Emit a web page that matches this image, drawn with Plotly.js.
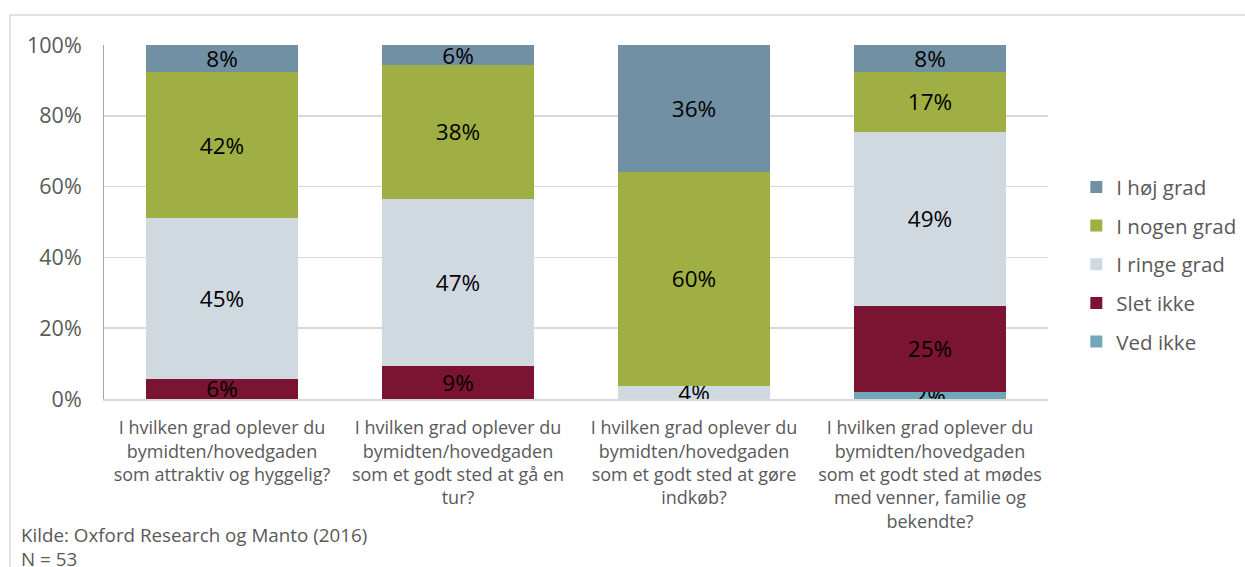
<!DOCTYPE html>
<html>
<head>
<meta charset="utf-8">
<script src="https://cdn.plot.ly/plotly-3.0.1.min.js"></script>
<style>
html,body{margin:0;padding:0;background:#fff;}
#chart{width:1245px;height:567px;}
</style>
</head>
<body>
<div id="chart"></div>
<script>
const categories = [
  "I hvilken grad oplever du<br>bymidten/hovedgaden<br>som attraktiv og hyggelig?",
  "I hvilken grad oplever du<br>bymidten/hovedgaden<br>som et godt sted at gå en<br>tur?",
  "I hvilken grad oplever du<br>bymidten/hovedgaden<br>som et godt sted at gøre<br>indkøb?",
  "I hvilken grad oplever du<br>bymidten/hovedgaden<br>som et godt sted at mødes<br>med venner, familie og<br>bekendte?"
];
const vedIkke    = [0, 0, 0, 1.9];
const sletIkke   = [5.7, 9.4, 0, 24.5];
const iRingeGrad = [45.3, 47.2, 3.8, 49.1];
const iNogenGrad = [41.5, 37.7, 60.4, 17.0];
const iHojGrad   = [7.5, 5.7, 35.8, 7.5];

const seriesNames  = ["Ved ikke", "Slet ikke", "I ringe grad", "I nogen grad", "I høj grad"];
const seriesValues = [vedIkke, sletIkke, iRingeGrad, iNogenGrad, iHojGrad];
const seriesColors = ["#70A7BB", "#7B1432", "#D0D8E0", "#9FAF44", "#7290A4"];

const FONT = "'Open Sans', 'Noto Sans', sans-serif";

const traces = seriesNames.map((name, i) => ({
  type: "bar",
  name: name,
  x: categories,
  y: seriesValues[i],
  marker: {color: seriesColors[i], line: {width: 0}},
  text: seriesValues[i].map(v => v > 0 ? Math.round(v) + "%" : ""),
  textposition: "inside",
  insidetextanchor: "middle",
  constraintext: "none",
  textfont: {family: FONT, size: 22.5, color: "#000"},
  hoverinfo: "skip",
  legendgroup: "g" + i,
  legendrank: 100 - i
}));

const layout = {
  width: 1245, height: 567,
  margin: {l: 104, r: 197, t: 45, b: 168, autoexpand: false},
  barmode: "stack",
  bargap: 0.356,
  paper_bgcolor: "#fff",
  plot_bgcolor: "#fff",
  font: {family: FONT, color: "#595959"},
  showlegend: true,
  legend: {
    x: 1.03, xanchor: "left", y: 0.655, yanchor: "top",
    traceorder: "grouped",
    tracegroupgap: 9,
    font: {family: FONT, size: 20.5, color: "#595959"},
    itemwidth: 30
  },
  xaxis: {
    tickfont: {family: FONT, size: 18, color: "#595959"},
    showline: true, linecolor: "#d9d9d9", linewidth: 1.5,
    ticks: "", showgrid: false, ticklabelstandoff: 12
  },
  yaxis: {
    range: [0, 100], dtick: 20, ticksuffix: "%",
    tickfont: {family: FONT, size: 21.5, color: "#595959"},
    showgrid: true, gridcolor: "#d9d9d9", gridwidth: 1.5,
    showline: true, linecolor: "#a6a6a6", linewidth: 1,
    zeroline: false, ticks: "", ticklabelstandoff: 17
  },
  shapes: [{
    type: "rect", xref: "paper", yref: "paper",
    x0: -0.0996, x1: 1.4, y0: -1, y1: 1.0847,
    line: {color: "#d9d9d9", width: 1.5}, fillcolor: "rgba(0,0,0,0)", layer: "below"
  }],
  annotations: [
    {xref: "paper", yref: "paper", x: -0.09, y: -0.384, xanchor: "left", yanchor: "middle",
     text: "Kilde: Oxford Research og Manto (2016)", showarrow: false,
     font: {family: FONT, size: 18.8, color: "#595959"}},
    {xref: "paper", yref: "paper", x: -0.09, y: -0.452, xanchor: "left", yanchor: "middle",
     text: "N = 53", showarrow: false,
     font: {family: FONT, size: 18.8, color: "#595959"}}
  ]
};

Plotly.newPlot("chart", traces, layout, {displayModeBar: false, staticPlot: true});
</script>
</body>
</html>
